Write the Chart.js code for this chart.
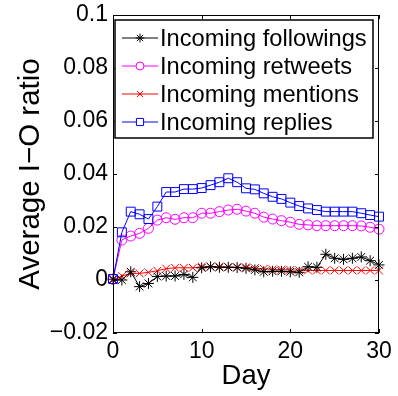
<!DOCTYPE html>
<html lang="en">
  <head>
    <meta charset="UTF-8" />
    <title>Average I-O ratio by day</title>
    <script src="https://cdn.jsdelivr.net/npm/chart.js"></script>
    <style>
      body {
        margin: 0;
        background-color: #ffffff;
      }
      .chart-box {
        width: 398px;
        height: 396px;
      }
    </style>
  </head>
  <body>
    <div class="chart-box">
      <canvas id="ioChart" width="398" height="396"></canvas>
    </div>

    <script>
      // data
      var days = [0, 1, 2, 3, 4, 5, 6, 7, 8, 9, 10, 11, 12, 13, 14, 15, 16, 17, 18, 19, 20, 21, 22, 23, 24, 25, 26, 27, 28, 29, 30];
      var followings = [0.0003, 0.0, 0.0031, -0.0025, -0.0013, 0.0013, 0.0015, 0.0015, 0.0021, 0.001, 0.0046, 0.005, 0.0048, 0.0048, 0.0047, 0.0044, 0.0038, 0.0031, 0.0033, 0.0033, 0.0031, 0.0029, 0.005, 0.0048, 0.0097, 0.0082, 0.0078, 0.0082, 0.0087, 0.0073, 0.0057];
      var retweets = [0.0003, 0.0151, 0.0166, 0.0176, 0.0195, 0.0226, 0.0235, 0.0229, 0.0235, 0.0235, 0.0252, 0.0252, 0.0258, 0.0264, 0.0267, 0.026, 0.0252, 0.0237, 0.023, 0.0224, 0.0218, 0.021, 0.0208, 0.0205, 0.0205, 0.0205, 0.0205, 0.0205, 0.0204, 0.0199, 0.0192];
      var mentions = [0.0, 0.0015, 0.0025, 0.0025, 0.0029, 0.0035, 0.0043, 0.0046, 0.0046, 0.0046, 0.005, 0.005, 0.005, 0.0049, 0.0048, 0.0048, 0.0045, 0.0042, 0.004, 0.0039, 0.0038, 0.0037, 0.0036, 0.0036, 0.0036, 0.0036, 0.0036, 0.0036, 0.0036, 0.0036, 0.0036];
      var replies = [0.0004, 0.018, 0.0258, 0.0248, 0.023, 0.0277, 0.0332, 0.0332, 0.0343, 0.0343, 0.0347, 0.0358, 0.0369, 0.0384, 0.0369, 0.0346, 0.0342, 0.0327, 0.0314, 0.0306, 0.0292, 0.0279, 0.027, 0.0264, 0.0258, 0.0258, 0.0258, 0.0258, 0.0252, 0.0245, 0.0239];
      var seriesNames = ["Incoming followings", "Incoming retweets", "Incoming mentions", "Incoming replies"];
      var xTicks = [0, 10, 20, 30];
      var yTicks = [-0.02, 0, 0.02, 0.04, 0.06, 0.08, 0.1];

      var FONT = "'Liberation Sans', Arial, sans-serif";

      function toPoints(vals) {
        return vals.map(function (v, i) {
          return { x: days[i], y: v };
        });
      }

      function series(label, vals, color, style, radius, order) {
        return {
          label: label,
          data: toPoints(vals),
          borderColor: color,
          backgroundColor: "rgba(0,0,0,0)",
          borderWidth: 1,
          pointStyle: style,
          pointRadius: radius,
          pointBorderColor: color,
          pointBackgroundColor: "rgba(0,0,0,0)",
          pointBorderWidth: 1,
          tension: 0,
          clip: false,
          order: order,
        };
      }

      // box round the axes with inward ticks on all four sides
      var framePlugin = {
        id: "frame",
        afterDraw: function (chart) {
          var ctx = chart.ctx;
          var a = chart.chartArea;
          var xs = chart.scales.x;
          var ys = chart.scales.y;
          var len = 4;
          ctx.save();
          ctx.strokeStyle = "#000";
          ctx.lineWidth = 1;
          ctx.strokeRect(a.left + 0.5, a.top + 0.5, a.right - a.left - 1, a.bottom - a.top - 1);
          ctx.beginPath();
          xTicks.forEach(function (t) {
            var px = Math.round(xs.getPixelForValue(t)) + 0.5;
            ctx.moveTo(px, a.bottom);
            ctx.lineTo(px, a.bottom - len);
            ctx.moveTo(px, a.top);
            ctx.lineTo(px, a.top + len);
          });
          yTicks.forEach(function (t) {
            var py = Math.round(ys.getPixelForValue(t)) + 0.5;
            ctx.moveTo(a.left, py);
            ctx.lineTo(a.left + len, py);
            ctx.moveTo(a.right, py);
            ctx.lineTo(a.right - len, py);
          });
          ctx.stroke();
          ctx.restore();
        },
      };

      // legend box drawn inside the plot, top left
      var legendPlugin = {
        id: "boxLegend",
        afterDraw: function (chart) {
          var ctx = chart.ctx;
          var a = chart.chartArea;
          var left = a.left + 2;
          var top = a.top + 5;
          var w = 258;
          var rowH = 28;
          var h = 118;
          ctx.save();
          ctx.fillStyle = "#fff";
          ctx.fillRect(left, top, w, h);
          ctx.strokeStyle = "#000";
          ctx.lineWidth = 1.5;
          ctx.strokeRect(left, top, w, h);
          ctx.font = "23.7px " + FONT;
          ctx.textBaseline = "middle";
          seriesNames.forEach(function (name, i) {
            var ds = chart.data.datasets.find(function (d) {
              return d.label === name;
            });
            var cy = top + 18 + i * rowH;
            ctx.strokeStyle = ds.borderColor;
            ctx.lineWidth = 1;
            ctx.beginPath();
            ctx.moveTo(left + 7, cy);
            ctx.lineTo(left + 43, cy);
            ctx.stroke();
            ctx.fillStyle = "#fff";
            Chart.helpers.drawPoint(
              ctx,
              { pointStyle: ds.pointStyle, radius: ds.pointRadius * 0.8, borderWidth: 1, rotation: 0 },
              left + 25,
              cy
            );
            ctx.fillStyle = "#000";
            ctx.fillText(name, left + 45, cy + 1);
          });
          ctx.restore();
        },
      };

      var ctx = document.getElementById("ioChart").getContext("2d");
      var ioChart = new Chart(ctx, {
        type: "line",
        data: {
          datasets: [
            series(seriesNames[0], followings, "#000000", "star", 5.5, 2),
            series(seriesNames[1], retweets, "#ff00ff", "circle", 5, 3),
            series(seriesNames[2], mentions, "#ff0000", "crossRot", 5.5, 4),
            series(seriesNames[3], replies, "#0000ff", "rect", 6.3, 1),
          ],
        },
        options: {
          responsive: false,
          animation: false,
          layout: {
            padding: { top: 15, right: 19, left: 0, bottom: 0 },
          },
          plugins: {
            legend: { display: false },
            tooltip: { enabled: false },
          },
          scales: {
            x: {
              type: "linear",
              min: 0,
              max: 30,
              afterBuildTicks: function (scale) {
                scale.ticks = xTicks.map(function (v) {
                  return { value: v };
                });
              },
              afterFit: function (scale) {
                scale.height = 63;
              },
              grid: { display: false, drawTicks: false },
              border: { display: false },
              ticks: {
                color: "#000",
                padding: 5,
                maxRotation: 0,
                font: { family: FONT, size: 23 },
              },
              title: {
                display: true,
                text: "Day",
                color: "#000",
                padding: { top: 0, bottom: 3 },
                font: { family: FONT, size: 27.5 },
              },
            },
            y: {
              type: "linear",
              min: -0.02,
              max: 0.1,
              afterBuildTicks: function (scale) {
                scale.ticks = yTicks.map(function (v) {
                  return { value: v };
                });
              },
              afterFit: function (scale) {
                scale.width = 113;
              },
              // transparent tick marks only keep the labels off the axis
              grid: {
                display: true,
                drawOnChartArea: false,
                drawTicks: true,
                tickLength: 5,
                color: "rgba(0,0,0,0)",
              },
              border: { display: false },
              ticks: {
                color: "#000",
                padding: 0,
                font: { family: FONT, size: 23 },
                callback: function (v) {
                  return String(Number(v.toFixed(2))).replace("-", "\u2212");
                },
              },
              title: {
                display: true,
                text: "Average I\u2212O ratio",
                color: "#000",
                padding: { top: 13, bottom: 0 },
                font: { family: FONT, size: 29.5 },
              },
            },
          },
        },
        plugins: [framePlugin, legendPlugin],
      });
    </script>
  </body>
</html>
